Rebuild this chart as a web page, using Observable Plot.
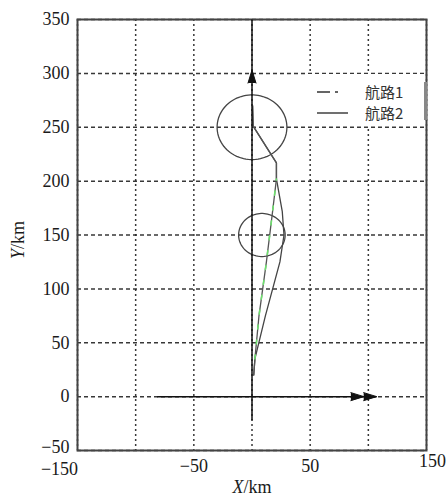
<!DOCTYPE html>
<html>
<head>
<meta charset="utf-8">
<script src="https://cdn.jsdelivr.net/npm/d3@7"></script>
<script src="https://cdn.jsdelivr.net/npm/@observablehq/plot@0.6"></script>
<style>
  html, body { margin: 0; padding: 0; background: #fff; }
  #wrap { position: relative; width: 448px; height: 496px; font-family: "Liberation Serif", serif; color: #1a1a1a; }
  .lab { position: absolute; font-size: 18px; line-height: 16px; white-space: nowrap; }
  #legend { position: absolute; left: 306px; top: 74px; width: 118px; height: 52px; background: #fff; }
  #legend .bar { position: absolute; right: -3px; top: 8px; width: 3px; height: 38px; background: #888; }
  #legend .row { position: absolute; left: 0; height: 20px; width: 118px; }
  #legend .txt { position: absolute; left: 59px; top: 0; font-family: "Noto Sans CJK SC", sans-serif; font-size: 15px; line-height: 20px; color: #333; }
  #legend svg { position: absolute; left: 10px; top: 0; }
</style>
</head>
<body>
<div id="wrap"></div>
<script>
// ---- data ----
const xTicks = [-150, -100, -50, 0, 50, 100, 150];
const yTicks = [-50, 0, 50, 100, 150, 200, 250, 300, 350];
const yTickLabels = [0, 50, 100, 150, 200, 250, 300, 350];
const yTickLabelBottom = [-50];
const xTickLabelsMid = [-50, 50];
const xTickLabelLeft = [-150];
const xTickLabelRight = [150];

// route 1 (dash-dot) and route 2 (solid)
const route1X = [1.5, 2.5, 6, 12.5, 17.5, 21, 21, 1, 0.5];
const route1Y = [20, 35, 75, 126, 170, 202, 217, 251, 270];
const route2X = [1.5, 2.5, 11.5, 24, 27.5, 26, 21, 21, 1, 0.5];
const route2Y = [20, 35, 75, 125, 150, 172, 202, 217, 251, 270];
// y range where route 1 separates from route 2 (its coloured dashes)
const route1SplitY = [35, 202];

// threat circles (center x, center y, radius, km)
const circleCX = [0, 8.5];
const circleCY = [250, 150];
const circleR = [30, 20];

// coordinate reference axes (line segments, km)
const refX1 = [0, -81.5];
const refY1 = [-22, 0];
const refX2 = [0, 107];
const refY2 = [350, 0];

// arrowheads: base position (km), direction (deg)
const headX = [0, 85, 96];
const headY = [291, 0, 0];
const headDir = [0, 90, 90];

// ---- build tables ----
const route1 = route1X.map((x, i) => ({x, y: route1Y[i]}));
const route2 = route2X.map((x, i) => ({x, y: route2Y[i]}));
const route1Split = route1.filter(d => d.y >= route1SplitY[0] && d.y <= route1SplitY[1]);
const circles = [];
circleCX.forEach((cx, k) => {
  for (let a = 0; a <= 360; a += 4) {
    const t = a * Math.PI / 180;
    circles.push({id: k, x: cx + circleR[k] * Math.cos(t), y: circleCY[k] + circleR[k] * Math.sin(t)});
  }
});
const refLines = refX1.map((x1, i) => ({x1, y1: refY1[i], x2: refX2[i], y2: refY2[i]}));
const heads = headX.map((x, i) => ({x, y: headY[i], dir: headDir[i]}));

const lineColor = "#444";
const fmt = d => d < 0 ? "\u2212" + Math.abs(d) : String(d);

const chart = Plot.plot({
  width: 448,
  height: 496,
  marginTop: 19,
  marginBottom: 46,
  marginLeft: 77,
  marginRight: 22,
  style: {fontFamily: "Liberation Serif, serif", fontSize: "18px", color: "#1a1a1a", background: "#fff"},
  x: {domain: [-150, 150]},
  y: {domain: [-50, 350]},
  marks: [
    Plot.gridX(xTicks, {stroke: "#222", strokeOpacity: 0.9, strokeWidth: 1.5, strokeDasharray: "2,3"}),
    Plot.gridY(yTicks, {stroke: "#222", strokeOpacity: 0.9, strokeWidth: 1.5, strokeDasharray: "4,3"}),
    Plot.frame({stroke: "#444", strokeWidth: 2}),
    Plot.line(circles, {x: "x", y: "y", z: "id", stroke: lineColor, strokeWidth: 1.3}),
    Plot.line(route2, {x: "x", y: "y", stroke: lineColor, strokeWidth: 1.3}),
    Plot.line(route1, {x: "x", y: "y", stroke: "#555", strokeWidth: 1.3}),
    Plot.line(route1Split, {x: "x", y: "y", stroke: "#6ee06e", strokeWidth: 1.6, strokeDasharray: "4,11"}),
    Plot.link(refLines, {x1: "x1", y1: "y1", x2: "x2", y2: "y2", stroke: "#111", strokeWidth: 1.5}),
    Plot.vector(heads, {x: "x", y: "y", rotate: "dir", length: 13, r: 4, shape: "spike", anchor: "start", fill: "#111", stroke: "#111", strokeWidth: 1}),
    Plot.axisY(yTickLabels, {tickSize: 0, tickPadding: 8, tickFormat: fmt, label: null, fontSize: 18}),
    Plot.axisY(yTickLabelBottom, {tickSize: 0, tickPadding: 8, dy: -3, tickFormat: fmt, label: null, fontSize: 18}),
    Plot.axisX(xTickLabelsMid, {tickSize: 0, tickPadding: 9, tickFormat: fmt, label: null, fontSize: 18}),
    Plot.axisX(xTickLabelLeft, {tickSize: 0, tickPadding: 12, dx: -18, tickFormat: fmt, label: null, fontSize: 18}),
    Plot.axisX(xTickLabelRight, {tickSize: 0, tickPadding: 4, dx: 6, tickFormat: fmt, label: null, fontSize: 18})
  ]
});

const wrap = document.getElementById("wrap");
wrap.appendChild(chart);

// axis titles
const xl = document.createElement("div");
xl.className = "lab";
xl.style.left = "252px"; xl.style.top = "479px"; xl.style.transform = "translateX(-50%)";
xl.innerHTML = "<i>X</i>/km";
wrap.appendChild(xl);

const yl = document.createElement("div");
yl.className = "lab";
yl.style.left = "18px"; yl.style.top = "240px"; yl.style.transform = "translate(-50%,-50%) rotate(-90deg)";
yl.innerHTML = "<i>Y</i>/km";
wrap.appendChild(yl);

// legend
const legendNames = ["航路1", "航路2"];
const legendDash = ["13,5,3,100", "none"];
const lg = document.createElement("div");
lg.id = "legend";
let html = '<div class="bar"></div>';
legendNames.forEach((n, i) => {
  html += `<div class="row" style="top:${8 + i * 21}px"><svg width="40" height="20"><line x1="1" y1="10" x2="32" y2="10" stroke="#333" stroke-width="1.4" stroke-dasharray="${legendDash[i]}"/></svg><span class="txt">${n}</span></div>`;
});
lg.innerHTML = html;
wrap.appendChild(lg);
</script>
</body>
</html>
